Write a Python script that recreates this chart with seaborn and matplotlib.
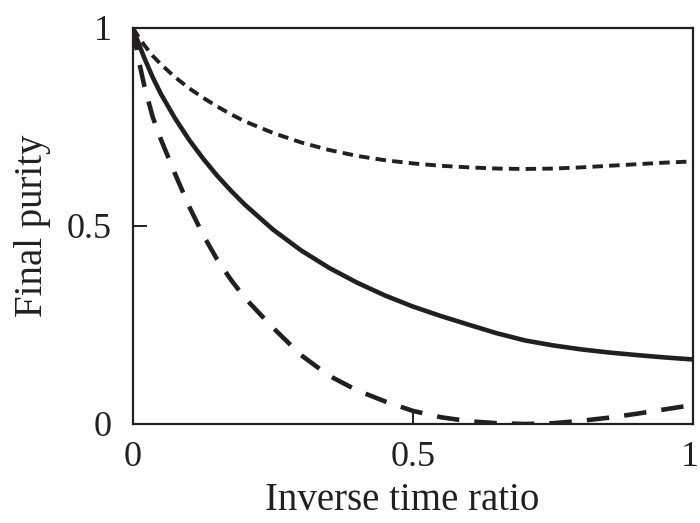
import numpy as np
import pandas as pd
import matplotlib
matplotlib.use("Agg")
import matplotlib.pyplot as plt
import matplotlib.transforms as mtransforms
import seaborn as sns

# Data
x_vals = [0, 0.01, 0.02, 0.035, 0.05, 0.075, 0.1, 0.125, 0.15, 0.175, 0.2,
          0.25, 0.3, 0.35, 0.4, 0.45, 0.5, 0.55, 0.6, 0.65, 0.7, 0.75, 0.8,
          0.85, 0.9, 0.95, 1.0]
solid_vals = [1.0, 0.961, 0.925, 0.876, 0.833, 0.772, 0.718, 0.6705, 0.6275,
              0.589, 0.5535, 0.491, 0.4385, 0.3945, 0.357, 0.3245, 0.2965,
              0.2725, 0.2505, 0.229, 0.211, 0.1985, 0.1885, 0.1805, 0.174,
              0.168, 0.163]
longdash_vals = [1.0, 0.92, 0.855, 0.776, 0.718, 0.632, 0.55, 0.478, 0.416,
                 0.364, 0.318, 0.243, 0.174, 0.122, 0.085, 0.057, 0.033,
                 0.017, 0.007, 0.002, 0.0, 0.002, 0.008, 0.016, 0.026, 0.037,
                 0.048]
shortdash_vals = [1.0, 0.977, 0.957, 0.93, 0.908, 0.876, 0.848, 0.824, 0.802,
                  0.782, 0.764, 0.735, 0.711, 0.692, 0.677, 0.666, 0.658,
                  0.652, 0.648, 0.645, 0.644, 0.645, 0.648, 0.652, 0.656,
                  0.66, 0.663]
tick_vals = [0, 0.5, 1]
tick_labels = ["0", "0.5", "1"]

sns.set_style("ticks")
plt.rcParams['font.family'] = ['Liberation Serif', 'DejaVu Serif']

ink = '#231f20'
fig = plt.figure(figsize=(7, 5.23), dpi=100)
ax = fig.add_axes([0.19, 0.1893, 0.80, 0.7572])

df = pd.DataFrame({"x": x_vals, "solid": solid_vals,
                   "long": longdash_vals, "short": shortdash_vals})

sns.lineplot(data=df, x="x", y="short", ax=ax, color=ink, lw=2.8,
             estimator=None, sort=False)
ax.lines[-1].set_dashes((2.7, 1.6))
sns.lineplot(data=df, x="x", y="solid", ax=ax, color=ink, lw=3.3,
             estimator=None, sort=False)
sns.lineplot(data=df, x="x", y="long", ax=ax, color=ink, lw=3.3,
             estimator=None, sort=False)
ax.lines[-1].set_dashes((4.9, 3.3))

ax.set_xlim(0, 1)
ax.set_ylim(0, 1)
ax.set_xticks(tick_vals)
ax.set_xticklabels(tick_labels)
ax.set_yticks(tick_vals)
ax.set_yticklabels(tick_labels)
ax.tick_params(direction='in', length=10, width=1.4, labelsize=26,
               colors=ink)
ax.tick_params(axis='x', pad=12)
ax.tick_params(axis='y', pad=15.5)
for s in ax.spines.values():
    s.set_visible(True)
    s.set_linewidth(1.6)
    s.set_color(ink)
ax.set_xlabel("Inverse time ratio", fontsize=28, color=ink, labelpad=6)
ax.set_ylabel("Final purity", fontsize=28, color=ink, labelpad=11)
ax.xaxis.label.set_x(0.48)

# nudge the right-most x tick label slightly left so it stays inside
lbl = ax.get_xticklabels()[-1]
lbl.set_transform(lbl.get_transform() +
                  mtransforms.ScaledTranslation(-3 / 100, 0, fig.dpi_scale_trans))

fig.savefig("out.png", dpi=100)
